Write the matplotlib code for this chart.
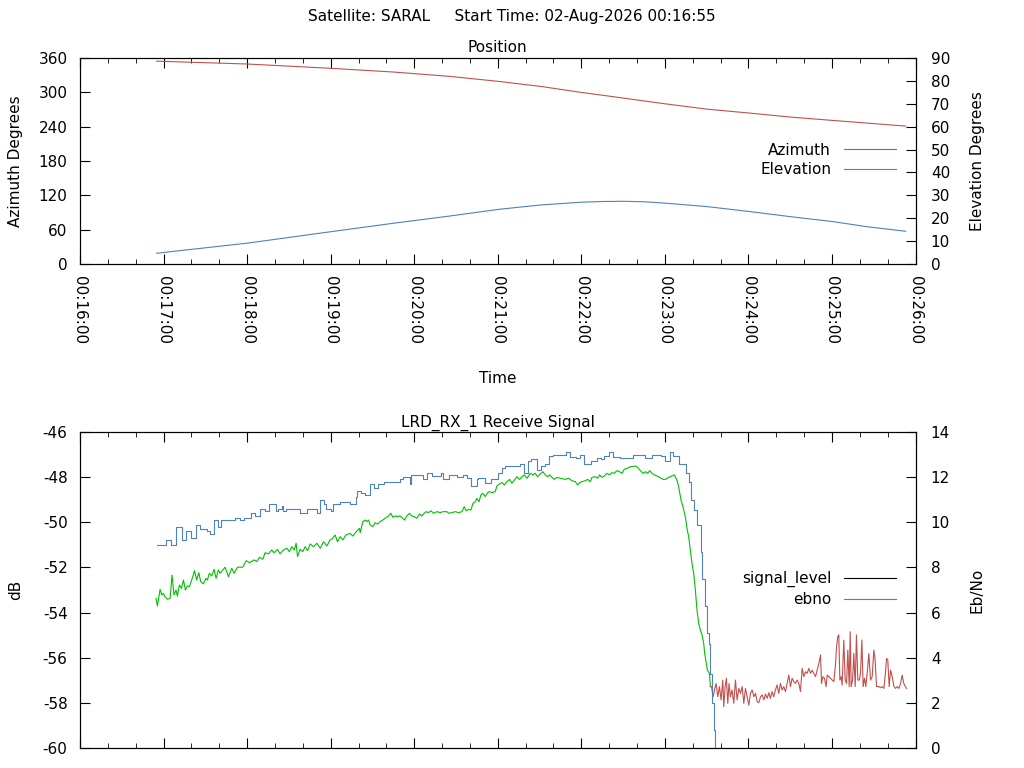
import matplotlib
matplotlib.use("Agg")
import matplotlib.pyplot as plt
from matplotlib.lines import Line2D
from matplotlib.ticker import FuncFormatter, MultipleLocator

# time axis: seconds after 00:16:00
T0_MIN = 16

# ---- Position panel ----
pos_t = [55, 120, 180, 225, 266, 301, 331, 360, 375, 390, 405, 420, 450, 481, 510, 541, 565, 593]
azimuth = [354.5, 349.5, 342.0, 335.5, 327.8, 319.0, 310.3, 299.8, 295.0, 290.0, 285.0,
           280.0, 270.7, 263.7, 256.8, 250.8, 246.3, 241.0]
elevation = [4.7, 9.1, 14.1, 17.8, 21.0, 23.9, 25.8, 27.0, 27.3, 27.4, 27.2, 26.6,
             25.1, 22.9, 20.7, 18.5, 16.3, 14.3]

# ---- Receive signal panel ----
# ebno (right axis), step values
ebno_t = [55, 62, 65, 69, 73, 76, 80, 83, 86, 91, 93, 96, 99, 101, 111, 115, 118, 123,
          126, 129, 133, 136, 141, 142, 145, 146, 148, 158, 163, 170, 172, 175, 177, 180,
          182, 187, 194, 198, 199, 202, 205, 208, 211, 214, 218, 230, 232, 237, 238, 246,
          249, 253, 259, 261, 265, 271, 275, 278, 281, 285, 286, 291, 295, 300, 303, 305,
          316, 319, 322, 324, 328, 331, 334, 337, 340, 349, 352, 356, 359, 362, 367, 371,
          374, 376, 380, 383, 388, 397, 406, 411, 417, 420, 424, 426, 430, 435, 437, 439,
          441, 443, 446, 447, 449, 450, 452, 452.5, 454, 455, 456]
ebno = [9.0, 9.2, 9.0, 9.8, 9.2, 9.6, 9.3, 9.9, 9.7, 9.6, 9.5, 10.1, 9.8, 10.1, 10.2,
        10.1, 10.2, 10.4, 10.3, 10.6, 10.5, 10.8, 10.5, 10.6, 10.7, 10.5, 10.6, 10.4,
        10.6, 10.4, 11.0, 10.8, 10.6, 10.5, 10.8, 10.9, 10.8, 11.1, 11.4, 11.3, 11.2,
        11.7, 11.5, 11.7, 11.8, 11.9, 12.0, 11.7, 12.1, 11.9, 12.2, 12.05, 12.2, 11.9,
        12.1, 12.0, 12.1, 11.95, 11.6, 11.9, 11.95, 11.75, 11.9, 12.2, 12.4, 12.5, 12.6,
        12.2, 12.7, 12.8, 12.3, 12.5, 12.6, 12.95, 13.0, 13.1, 12.9, 12.85, 13.0, 12.6,
        12.7, 12.85, 12.8, 12.95, 13.1, 12.9, 12.85, 13.0, 12.85, 13.0, 12.95, 12.7,
        13.1, 12.95, 12.6, 12.2, 11.8, 11.0, 10.55, 9.9, 8.7, 7.5, 6.3, 5.1, 4.6, 3.3,
        2.0, 0.8, -1.0]

# signal_level (left axis) while locked (green)
sig_lock_t = [54.6, 55.6, 57.5, 58.7, 59.9, 61.1, 62.8, 64.7, 66.1, 67.5, 69.0, 69.9,
              71.4, 72.8, 74.3, 75.7, 77.1, 78.6, 81.0, 82.2, 83.8, 85.3, 86.7, 88.6,
              90.5, 91.5, 92.9, 94.6, 96.3, 97.7, 99.4, 100.6, 104.2, 106.6, 109.0,
              110.7, 113.1, 116.9, 119.3, 121.7, 125.0, 127.0, 128.9, 131.3, 132.9,
              135.3, 137.7, 139.4, 141.8, 143.7, 146.1, 148.5, 150.4, 152.1, 153.8,
              155.2, 156.2, 158.1, 160.0, 161.7, 163.4, 165.3, 167.7, 170.1, 172.5,
              174.9, 177.3, 179.6, 181.6, 183.2, 184.9, 186.8, 188.8, 191.1, 194.0,
              195.9, 198.3, 200.7, 201.2, 203.1, 204.8, 206.0, 207.2, 208.4, 210.3,
              212.0, 213.7, 215.6, 217.5, 219.2, 221.6, 223.2, 224.7, 226.4, 228.0,
              229.9, 231.9, 233.1, 234.7, 236.6, 238.3, 240.0, 241.9, 243.8, 245.5,
              246.7, 248.6, 250.3, 252.0, 253.9, 256.3, 258.7, 260.6, 263.5, 264.7,
              267.1, 269.5, 271.9, 274.3, 275.9, 277.4, 279.0, 280.7, 282.2, 283.8,
              285.0, 286.5, 287.9, 289.3, 291.0, 292.7, 294.1, 295.8, 298.2, 299.4,
              301.3, 303.0, 304.7, 306.6, 308.5, 310.2, 311.9, 313.8, 315.7, 317.4,
              319.0, 321.0, 323.4, 325.3, 326.9, 328.6, 330.5, 332.4, 334.1, 335.8,
              337.2, 338.9, 340.6, 342.5, 344.9, 348.5, 350.9, 353.3, 355.7, 357.4,
              358.8, 360.5, 362.9, 364.5, 366.5, 367.7, 370.0, 371.7, 373.2, 374.8,
              376.5, 378.4, 380.3, 382.0, 383.7, 385.6, 387.5, 389.2, 390.9, 392.8,
              395.2, 398.8, 400.5, 402.4, 404.3, 406.0, 407.7, 409.1, 410.8, 412.4,
              414.4, 416.3, 418.7, 420.3, 422.7, 425.1, 426.8, 428.7, 429.9, 431.6,
              433.0, 434.7, 435.9, 437.1, 438.3, 439.5, 440.7, 441.9, 443.1, 444.3,
              445.5, 446.7, 447.9, 448.6, 449.6, 450.5, 452.0, 452.7]
sig_lock = [-53.37, -53.71, -52.97, -53.22, -53.15, -53.30, -53.41, -53.37, -52.34,
            -53.22, -53.00, -53.27, -52.78, -52.93, -52.56, -53.00, -52.82, -52.85,
            -52.41, -52.14, -52.56, -52.23, -52.63, -52.73, -52.48, -52.56, -52.26,
            -52.38, -52.08, -52.48, -52.11, -52.26, -51.99, -52.41, -52.04, -52.26,
            -51.99, -51.99, -51.70, -51.79, -51.67, -51.74, -51.55, -51.64, -51.35,
            -51.40, -51.23, -51.35, -51.20, -51.40, -51.23, -51.15, -51.30, -51.08,
            -51.23, -50.93, -51.52, -51.20, -51.30, -51.08, -51.26, -50.96, -51.08,
            -50.93, -51.15, -50.86, -51.05, -50.78, -50.71, -50.56, -50.86, -50.64,
            -50.78, -50.56, -50.49, -50.61, -50.42, -50.27, -50.46, -49.97, -49.90,
            -49.97, -49.90, -50.12, -50.19, -50.02, -50.08, -49.97, -49.90, -49.82,
            -49.72, -49.60, -49.78, -49.72, -49.75, -49.72, -49.82, -49.90, -49.72,
            -49.60, -49.72, -49.75, -49.82, -49.63, -49.72, -49.63, -49.53, -49.57,
            -49.49, -49.60, -49.53, -49.57, -49.53, -49.53, -49.60, -49.57, -49.53,
            -49.57, -49.53, -49.31, -49.49, -49.43, -49.46, -49.16, -49.09, -48.94,
            -49.09, -48.79, -48.72, -48.86, -48.69, -48.64, -48.69, -48.64, -48.39,
            -48.30, -48.24, -48.35, -48.20, -48.10, -48.27, -48.13, -47.98, -48.10,
            -47.98, -47.90, -48.05, -47.83, -47.90, -47.83, -47.98, -47.86, -47.76,
            -47.90, -47.98, -47.90, -48.01, -48.10, -48.01, -48.05, -48.10, -48.05,
            -48.16, -48.20, -48.35, -48.24, -48.20, -48.16, -48.10, -48.20, -48.01,
            -47.98, -48.05, -47.90, -48.01, -47.95, -47.83, -47.90, -47.80, -47.83,
            -47.71, -47.76, -47.83, -47.65, -47.61, -47.54, -47.51, -47.57, -47.71,
            -47.83, -47.76, -47.83, -47.71, -47.83, -47.90, -47.95, -48.01, -48.10,
            -48.10, -48.01, -47.95, -47.90, -48.13, -48.42, -49.01, -49.31, -49.75,
            -50.27, -50.64, -51.23, -51.82, -52.26, -53.00, -53.89, -54.48, -54.77,
            -54.99, -55.36, -55.81, -56.18, -56.55, -56.69, -57.28]

# signal_level after loss of lock (red)
sig_loss_t = [452.7, 453.5, 454.7, 455.6, 456.8, 458.0, 459.2, 460.4, 461.6, 462.3,
              463.3, 464.2, 465.2, 466.1, 467.1, 468.3, 469.5, 470.7, 471.9, 473.1,
              474.3, 475.5, 476.7, 477.9, 479.1, 480.3, 481.5, 482.7, 483.9, 485.1,
              486.3, 487.5, 488.7, 489.9, 491.1, 492.3, 493.5, 494.7, 495.8, 497.0,
              498.2, 499.4, 500.6, 501.8, 503.0, 504.2, 505.4, 506.6, 507.8, 509.0,
              510.2, 511.4, 512.6, 513.8, 515.0, 516.2, 517.4, 518.6, 519.8, 521.0,
              522.2, 523.4, 524.6, 525.8, 527.0, 528.2, 529.4, 530.6, 531.8, 532.5,
              533.5, 534.6, 535.8, 536.6, 537.8, 539.0, 540.2, 541.4, 542.5, 543.3,
              544.2, 544.9, 545.7, 546.6, 547.3, 548.5, 549.5, 550.5, 551.4, 552.4,
              553.1, 553.8, 554.8, 555.7, 556.7, 557.6, 558.6, 559.6, 560.5, 561.5,
              562.4, 563.4, 564.3, 565.3, 566.5, 567.7, 568.9, 570.1, 571.0, 572.0,
              573.7, 574.9, 576.1, 577.3, 578.5, 579.2, 580.1, 581.1, 582.1, 583.3,
              584.5, 585.7, 586.9, 588.1, 589.3, 590.4, 591.6, 592.8, 593.6]
sig_loss = [-57.28, -57.28, -57.73, -57.43, -57.14, -57.73, -57.28, -57.87, -56.99,
            -58.17, -57.28, -56.91, -58.02, -57.14, -57.73, -57.43, -58.02, -56.99,
            -57.87, -57.36, -57.58, -57.28, -58.02, -57.36, -57.73, -58.10, -57.58,
            -57.43, -57.73, -57.58, -57.95, -57.99, -57.73, -57.65, -57.87, -57.61,
            -57.80, -57.55, -57.80, -57.50, -57.73, -57.43, -57.21, -57.58, -57.14,
            -57.43, -57.28, -57.50, -57.14, -56.77, -57.28, -56.91, -57.06, -57.14,
            -56.99, -57.14, -57.50, -56.47, -56.84, -56.62, -56.69, -56.47, -56.69,
            -56.55, -56.69, -56.84, -56.55, -56.25, -55.88, -57.14, -56.84, -56.91,
            -57.28, -56.77, -56.84, -56.91, -56.99, -57.06, -56.32, -55.51, -55.07,
            -54.99, -56.99, -56.84, -57.21, -55.22, -56.99, -57.14, -55.66, -57.28,
            -54.85, -57.28, -56.99, -55.81, -57.28, -54.99, -56.99, -56.99, -56.69,
            -55.22, -57.28, -56.91, -57.28, -56.69, -55.81, -56.99, -56.84, -55.66,
            -56.10, -57.28, -57.28, -57.33, -57.28, -57.36, -56.62, -56.03, -56.10,
            -57.28, -56.55, -56.84, -57.28, -57.36, -57.28, -57.36, -57.14, -56.77,
            -57.14, -57.28, -57.36]

RED = "#c0504d"
BLUE = "#4f81bd"
GREEN = "#00c000"
FS = 11

plt.rcParams["font.family"] = "DejaVu Sans"
plt.rcParams["font.size"] = FS
plt.rcParams["axes.unicode_minus"] = False

fig = plt.figure(figsize=(10.24, 7.68), dpi=100)
fig.text(0.5, 1 - 17 / 768, "Satellite: SARAL     Start Time: 02-Aug-2026 00:16:55",
         ha="center", va="center", fontsize=FS)

time_fmt = FuncFormatter(lambda v, p: f"00:{T0_MIN + int(round(v)) // 60:02d}:{int(round(v)) % 60:02d}")


def style_time_axis(ax, labels=True):
    ax.set_xlim(0, 600)
    ax.xaxis.set_major_locator(MultipleLocator(60))
    ax.xaxis.set_minor_locator(MultipleLocator(20))
    ax.xaxis.set_major_formatter(time_fmt)
    ax.tick_params(axis="x", which="both", direction="in", top=True, bottom=True,
                   labelbottom=labels)
    ax.tick_params(axis="x", which="major", length=7, pad=9)
    ax.tick_params(axis="x", which="minor", length=3.5)
    if labels:
        for lbl in ax.get_xticklabels():
            lbl.set_rotation(-90)
            lbl.set_va("top")
            lbl.set_ha("center")


def style_y(ax, side):
    ax.tick_params(axis="y", which="both", direction="in", length=7,
                   left=(side == "left"), right=(side == "right"),
                   labelleft=(side == "left"), labelright=(side == "right"),
                   pad=9 if side == "left" else 11)


# ---- top panel ----
ax1 = fig.add_axes([80 / 1024, 1 - 264 / 768, 835.5 / 1024, 206 / 768])
ax1.plot(pos_t, azimuth, color=RED, lw=0.8)
ax1.set_ylim(0, 360)
ax1.set_yticks(range(0, 361, 60))
style_time_axis(ax1)
style_y(ax1, "left")
ax1.set_ylabel("Azimuth Degrees", labelpad=11)
ax1.set_xlabel("Time", labelpad=19)
ax1.set_title("Position", fontsize=FS, pad=4)

ax1r = ax1.twinx()
ax1r.plot(pos_t, elevation, color=BLUE, lw=0.8)
ax1r.set_ylim(0, 90)
ax1r.set_yticks(range(0, 91, 10))
style_y(ax1r, "right")
ax1r.set_ylabel("Elevation Degrees", labelpad=14)

fig.legend([Line2D([], [], color=RED, lw=0.8), Line2D([], [], color=BLUE, lw=0.8)],
           ["Azimuth", "Elevation"], loc="center right",
           bbox_to_anchor=(896 / 1024, 1 - 160 / 768), frameon=False, markerfirst=False,
           handlelength=3.4, handletextpad=0.85, labelspacing=0.3, borderpad=0,
           borderaxespad=0, fontsize=FS)

# ---- bottom panel ----
ax2 = fig.add_axes([80 / 1024, 1 - 748 / 768, 835.5 / 1024, 316 / 768])
ax2.plot(sig_lock_t, sig_lock, color=GREEN, lw=0.8)
ax2.plot(sig_loss_t, sig_loss, color=RED, lw=0.8)
ax2.set_ylim(-60, -46)
ax2.set_yticks(range(-60, -45, 2))
style_time_axis(ax2, labels=False)
style_y(ax2, "left")
ax2.set_ylabel("dB", labelpad=14)
ax2.set_title("LRD_RX_1 Receive Signal", fontsize=FS, pad=4)

ax2r = ax2.twinx()
ax2r.plot(ebno_t, ebno, color=BLUE, lw=0.8, drawstyle="steps-post")
ax2r.set_ylim(0, 14)
ax2r.set_yticks(range(0, 15, 2))
style_y(ax2r, "right")
ax2r.set_ylabel("Eb/No", labelpad=14)

fig.legend([Line2D([], [], color="black", lw=0.8), Line2D([], [], color=BLUE, lw=0.8)],
           ["signal_level", "ebno"], loc="center right",
           bbox_to_anchor=(896 / 1024, 1 - 589 / 768), frameon=False, markerfirst=False,
           handlelength=3.4, handletextpad=0.85, labelspacing=0.3, borderpad=0,
           borderaxespad=0, fontsize=FS)

for ax in (ax1, ax1r, ax2, ax2r):
    for sp in ax.spines.values():
        sp.set_linewidth(0.8)

fig.savefig("out.png", dpi=100)
